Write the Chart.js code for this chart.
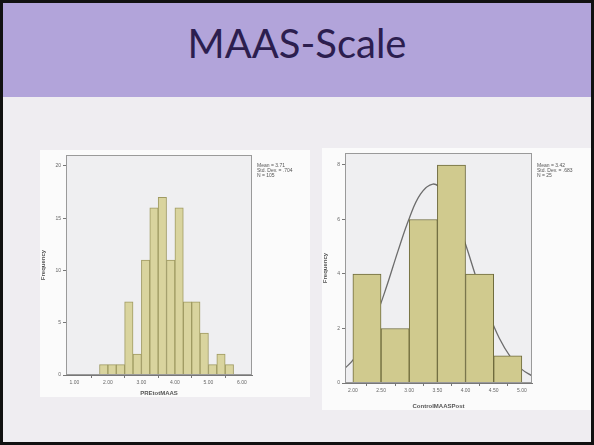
<!DOCTYPE html>
<html lang="en">
<head>
  <meta charset="UTF-8">
  <title>MAAS-Scale</title>
  <script src="https://cdn.jsdelivr.net/npm/chart.js"></script>
  <style>
    body {
      margin: 0;
      padding: 0;
      background: #000;
    }

    .slide {
      position: absolute;
      left: 0;
      top: 0;
      width: 594px;
      height: 445px;
      box-sizing: border-box;
      border: 3px solid #111;
      background: #efedf1;
      overflow: hidden;
      font-family: Arial, "Liberation Sans", sans-serif;
    }

    .band {
      position: absolute;
      left: 0;
      top: 0;
      width: 100%;
      height: 94px;
      background: #b2a4da;
    }

    .band h1 {
      margin: 0;
      position: absolute;
      left: 0;
      right: 0;
      top: 16px;
      text-align: center;
      font-family: Lato, "Open Sans", sans-serif;
      font-weight: normal;
      font-size: 40px;
      color: #2c1e4f;
    }

    .pic {
      position: absolute;
      background: #fbfbfb;
    }

    .pic canvas {
      position: absolute;
      left: 0;
      top: 0;
    }

    .stats {
      position: absolute;
      font-size: 5px;
      line-height: 5px;
      color: #555;
      white-space: pre;
    }
  </style>
</head>

<body>
  <div class="slide">
    <div class="band"><h1>MAAS-Scale</h1></div>

    <!-- Pre histogram -->
    <div class="pic" style="left:37px; top:147px; width:270px; height:247px;">
      <canvas id="preChart" width="270" height="247"></canvas>
      <div class="stats" style="left:217px; top:13px;">Mean = 3.71
Std. Dev. = .704
N = 105</div>
    </div>

    <!-- Post histogram -->
    <div class="pic" style="left:319px; top:145px; width:272px; height:262px;">
      <canvas id="postChart" width="272" height="262"></canvas>
      <div class="stats" style="left:215px; top:15px;">Mean = 3.42
Std. Dev. = .683
N = 25</div>
    </div>
  </div>

  <script>
    // Pre scores: bin centres (0.25 wide) and counts
    const preBins = [1.875, 2.125, 2.375, 2.625, 2.875, 3.125, 3.375, 3.625,
                     3.875, 4.125, 4.375, 4.625, 4.875, 5.125, 5.375, 5.625];
    const preCounts = [1, 1, 1, 7, 2, 11, 16, 17, 11, 16, 7, 7, 4, 1, 2, 1];
    const preXTicks = [1, 2, 3, 4, 5, 6];
    const preYTicks = [0, 5, 10, 15, 20];

    // Control post scores: bin centres (0.5 wide) and counts
    const postBins = [2.25, 2.75, 3.25, 3.75, 4.25, 4.75];
    const postCounts = [4, 2, 6, 8, 4, 1];
    const postXTicks = [2, 2.5, 3, 3.5, 4, 4.5, 5];
    const postYTicks = [0, 2, 4, 6, 8];

    // normal curve
    const curveX = [1.86, 2.0, 2.2, 2.4, 2.6, 2.8, 3.0, 3.2, 3.42, 3.6, 3.8, 4.0, 4.2, 4.4, 4.6, 4.8, 5.0, 5.18];
    const curveY = [0.54, 0.84, 1.48, 2.39, 3.55, 4.84, 6.04, 6.93, 7.3, 7.05, 6.25, 5.09, 3.8, 2.61, 1.64, 0.95, 0.5, 0.26];

    // plot background + frame like SPSS output
    const plotFrame = {
      id: 'plotFrame',
      beforeDatasetsDraw(chart) {
        const a = chart.chartArea;
        const ctx = chart.ctx;
        ctx.save();
        ctx.fillStyle = '#efeff1';
        ctx.fillRect(a.left, a.top, a.right - a.left, a.bottom - a.top);
        ctx.restore();
      },
      afterDatasetsDraw(chart) {
        const a = chart.chartArea;
        const ctx = chart.ctx;
        ctx.save();
        ctx.strokeStyle = '#9a9a9a';
        ctx.lineWidth = 1;
        ctx.strokeRect(a.left + 0.5, a.top + 0.5, a.right - a.left - 1, a.bottom - a.top - 1);
        ctx.restore();
      }
    };

    function makeHist(id, opts) {
      const datasets = [{
        type: 'bar',
        data: opts.bins.map((b, i) => ({ x: b, y: opts.counts[i] })),
        backgroundColor: opts.fill,
        borderColor: opts.edge,
        borderWidth: 1,
        barPercentage: 1,
        categoryPercentage: 1
      }];
      if (opts.curve) {
        datasets.push({
          type: 'line',
          data: opts.curve,
          borderColor: '#6c6c6c',
          borderWidth: 1.3,
          pointRadius: 0,
          tension: 0.4,
          fill: false
        });
      }

      return new Chart(document.getElementById(id), {
        type: 'bar',
        data: { datasets: datasets },
        plugins: [plotFrame],
        options: {
          responsive: false,
          animation: false,
          layout: { padding: opts.padding },
          plugins: { legend: { display: false }, tooltip: { enabled: false } },
          scales: {
            x: {
              type: 'linear',
              offset: false,
              min: opts.xMin,
              max: opts.xMax,
              afterBuildTicks: s => { s.ticks = opts.xTicks.map(v => ({ value: v })); },
              afterFit: s => { s.height = opts.xHeight; },
              ticks: {
                font: { size: 5 },
                color: '#666',
                padding: 2,
                maxRotation: 0,
                callback: v => v.toFixed(2)
              },
              grid: { display: true, drawOnChartArea: false, tickLength: 3, color: '#777' },
              border: { display: true, color: '#777' },
              title: {
                display: true,
                text: opts.xTitle,
                font: { size: 6, weight: 'bold' },
                color: '#555',
                padding: { top: 3, bottom: 0 }
              }
            },
            y: {
              min: 0,
              max: opts.yMax,
              afterBuildTicks: s => { s.ticks = opts.yTicks.map(v => ({ value: v })); },
              afterFit: s => { s.width = opts.yWidth; },
              ticks: { font: { size: 5 }, color: '#666', padding: 2 },
              grid: { display: true, drawOnChartArea: false, tickLength: 3, color: '#777' },
              border: { display: true, color: '#777' },
              title: {
                display: true,
                text: 'Frequency',
                font: { size: 6, weight: 'bold' },
                color: '#555',
                padding: 0
              }
            }
          }
        }
      });
    }

    makeHist('preChart', {
      bins: preBins,
      counts: preCounts,
      xTicks: preXTicks,
      yTicks: preYTicks,
      xMin: 0.75,
      xMax: 6.3,
      yMax: 21.05,
      xTitle: 'PREtotMAAS',
      fill: '#d9d49e',
      edge: '#9f9a62',
      padding: { top: 3, right: 58, left: 0, bottom: 0 },
      xHeight: 22,
      yWidth: 26
    });

    makeHist('postChart', {
      bins: postBins,
      counts: postCounts,
      xTicks: postXTicks,
      yTicks: postYTicks,
      xMin: 1.86,
      xMax: 5.18,
      yMax: 8.44,
      xTitle: 'ControlMAASPost',
      fill: '#d0ca8e',
      edge: '#6e6a3c',
      curve: curveX.map((x, i) => ({ x: x, y: curveY[i] })),
      padding: { top: 5, right: 62, left: 0, bottom: 0 },
      xHeight: 27,
      yWidth: 23
    });
  </script>
</body>
</html>
